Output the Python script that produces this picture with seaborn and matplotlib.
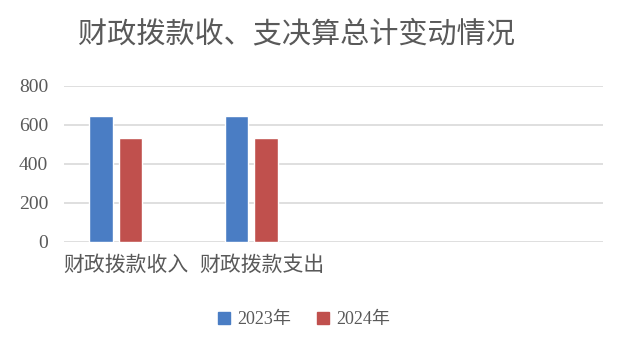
import pandas as pd
import seaborn as sns
import matplotlib.pyplot as plt
from matplotlib.transforms import ScaledTranslation

categories = ['财政拨款收入', '财政拨款支出']
years = ['2023年', '2024年']
values_2023 = [646, 646]
values_2024 = [533, 533]
colors = ['#4a7dc4', '#c0504d']

df = pd.DataFrame({
    'category': categories * 2,
    'year': [years[0]] * 2 + [years[1]] * 2,
    'value': values_2023 + values_2024,
})

sns.set_theme(style='white')
plt.rcParams['font.family'] = ['Noto Sans CJK SC', 'DejaVu Sans']
gray = '#595959'

fig = plt.figure(figsize=(6.4, 3.64), dpi=100)
ax = fig.add_axes([0.1, 0.336, 0.842, 0.4286])

sns.barplot(data=df, x='category', y='value', hue='year', hue_order=years,
            palette=colors, width=0.44, gap=0.2, saturation=1, ax=ax, legend=False)

ax.set_xlim(-0.379, 3.585)
ax.set_ylim(0, 800)
ax.set_yticks([0, 200, 400, 600, 800])
ax.yaxis.grid(True, color='#d9d9d9', linewidth=1.2)
ax.set_axisbelow(True)
for s in ax.spines.values():
    s.set_visible(False)
ax.set_xlabel('')
ax.set_ylabel('')
ax.tick_params(axis='y', length=0, pad=11.5, labelcolor=gray)
ax.tick_params(axis='x', length=0, pad=9, labelcolor=gray)
for t in ax.get_yticklabels():
    t.set_fontfamily(['Liberation Serif'])
    t.set_fontsize(14)
shift = ScaledTranslation(0.1, 0, fig.dpi_scale_trans)
for t in ax.get_xticklabels():
    t.set_fontsize(15)
    t.set_transform(t.get_transform() + shift)

fig.text(0.4625, 0.905, '财政拨款收、支决算总计变动情况', ha='center', va='center',
         fontsize=21, color=gray)

handles = [plt.Rectangle((0, 0), 1, 1, color=c) for c in colors]
leg = fig.legend(handles, years, loc='center', bbox_to_anchor=(0.475, 0.121),
                 ncol=2, frameon=False, handlelength=0.7, handleheight=0.7,
                 handletextpad=0.4, columnspacing=1.4,
                 prop={'family': ['Liberation Serif', 'Noto Sans CJK SC'], 'size': 13})
for t in leg.get_texts():
    t.set_color(gray)

fig.savefig('out.png', dpi=100)
